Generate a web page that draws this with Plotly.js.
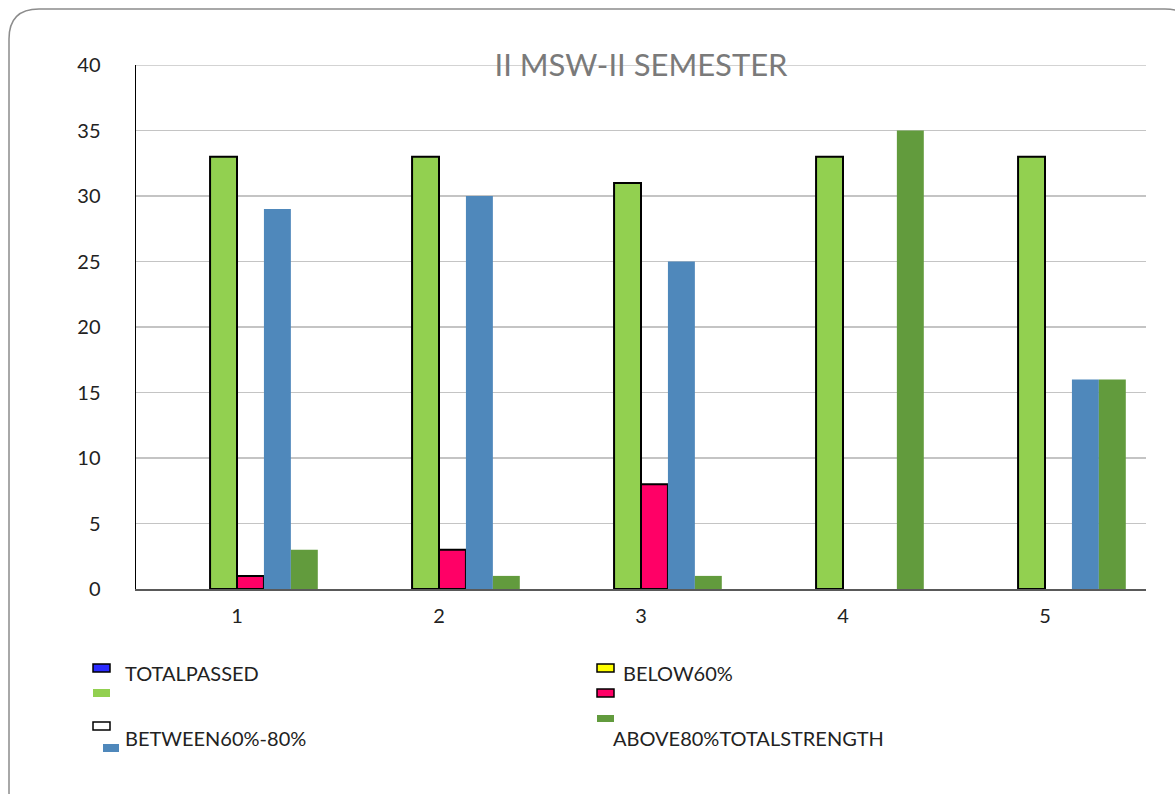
<!DOCTYPE html>
<html>
<head>
<meta charset="utf-8">
<script src="https://cdn.plot.ly/plotly-3.0.1.min.js"></script>
<style>html,body{margin:0;padding:0;background:#fff;}#chart{width:1175px;height:794px;}</style>
</head>
<body>
<div id="chart"></div>
<script>
// ---- data ----
const categories = ["1", "2", "3", "4", "5"];
const totalPassed = [0, 0, 0, 0, 0];
const below60Empty = [0, 0, 0, 0, 0];
const totalStrength = [33, 33, 31, 33, 33];
const below60 = [1, 3, 8, 0, 0];
const between60and80 = [29, 30, 25, 0, 16];
const above80 = [3, 1, 1, 35, 16];
const yTicks = [0, 5, 10, 15, 20, 25, 30, 35, 40];
const legendLabels = ["TOTALPASSED", "BELOW60%", "BETWEEN60%-80%", "ABOVE80%TOTALSTRENGTH"];
const chartTitle = "II MSW-II SEMESTER";

// ---- geometry helpers (pixel -> paper) ----
const W = 1175, H = 794;
const M = {l: 136, r: 29, t: 65, b: 205};
const PW = W - M.l - M.r, PH = H - M.t - M.b;
const px = x => (x - M.l) / PW;
const py = y => (H - M.b - y) / PH;

const FONT = "Lato, 'Open Sans', sans-serif";

function bar(name, y, color, outlined) {
  return {type: "bar", name: name, x: categories, y: y,
    marker: {color: color,
      line: {color: "#000", width: outlined ? y.map(v => v === 0 ? 0 : 2) : 0}},
    hoverinfo: "y", showlegend: false};
}

const traces = [
  bar("TOTALPASSED", totalPassed, "#2b2bff", true),
  bar("BELOW60%", below60Empty, "#ffff00", true),
  bar("TOTAL STRENGTH", totalStrength, "#92D050", true),
  bar("BELOW60%", below60, "#FF0066", true),
  bar("BETWEEN60%-80%", between60and80, "#4F88BB", false),
  bar("ABOVE80%", above80, "#629B3D", false)
];

// legend boxes (px)
function box(x0, y0, x1, y1, fill, withLine) {
  return {type: "rect", xref: "paper", yref: "paper",
    x0: px(x0), x1: px(x1), y0: py(y1), y1: py(y0),
    fillcolor: fill, line: withLine ? {color: "#000", width: 1.5} : {width: 0}};
}
function label(x, y, text) {
  return {xref: "paper", yref: "paper", x: px(x), y: py(y), xanchor: "left", yanchor: "middle",
    text: text, showarrow: false, font: {family: FONT, size: 20, color: "#222"}};
}

// frame path with rounded corners
const r = 30, fx0 = 9, fy0 = 9, fx1 = 1195, fy1 = 822;
const framePath =
  `M ${px(fx0)},${py(fy0 + r)} Q ${px(fx0)},${py(fy0)} ${px(fx0 + r)},${py(fy0)} ` +
  `L ${px(fx1 - r)},${py(fy0)} Q ${px(fx1)},${py(fy0)} ${px(fx1)},${py(fy0 + r)} ` +
  `L ${px(fx1)},${py(fy1 - r)} Q ${px(fx1)},${py(fy1)} ${px(fx1 - r)},${py(fy1)} ` +
  `L ${px(fx0 + r)},${py(fy1)} Q ${px(fx0)},${py(fy1)} ${px(fx0)},${py(fy1 - r)} Z`;

const shapes = [
  {type: "path", xref: "paper", yref: "paper", path: framePath,
   line: {color: "#8c8c8c", width: 1.5}, fillcolor: "rgba(0,0,0,0)", layer: "below"},
  {type: "line", xref: "paper", yref: "y", x0: 0, x1: 1, y0: yTicks[yTicks.length - 1], y1: yTicks[yTicks.length - 1],
   line: {color: "#c4c4c4", width: 1.3}, layer: "below"},
  box(93, 664, 110, 672, "#2b2bff", true),
  box(93, 689, 110, 697, "#92D050", false),
  box(93, 722, 110, 730, "#ffffff", true),
  box(103, 744, 119, 752, "#4F88BB", false),
  box(597, 664, 614, 672, "#ffff00", true),
  box(597, 689, 614, 697, "#FF0066", true),
  box(597, 715, 614, 722, "#629B3D", false)
];

const annotations = [
  label(123, 673, legendLabels[0]),
  label(621, 673, legendLabels[1]),
  label(123, 738, legendLabels[2]),
  label(611, 738, legendLabels[3])
];

const layout = {
  width: W, height: H,
  margin: M,
  paper_bgcolor: "#fff", plot_bgcolor: "rgba(0,0,0,0)",
  barmode: "group", bargap: 0.2, bargroupgap: 0,
  font: {family: FONT, color: "#222"},
  title: {text: chartTitle, x: 0.5, xref: "paper", xanchor: "center",
    y: 1 - 65 / H, yref: "container", yanchor: "middle",
    font: {family: FONT, size: 31, color: "#7a7a7a"}},
  xaxis: {type: "category", showgrid: false, showline: true, linecolor: "#595959", linewidth: 2,
    ticks: "", tickfont: {family: FONT, size: 20, color: "#222"}, ticklabelstandoff: 8,
    zeroline: false, fixedrange: true},
  yaxis: {range: [0, 40], tickvals: yTicks, showgrid: true, gridcolor: "#c4c4c4", gridwidth: 1.3,
    showline: true, linecolor: "#000", linewidth: 1.5, ticks: "", zeroline: false,
    tickfont: {family: FONT, size: 20, color: "#222"}, ticklabelstandoff: 30, fixedrange: true},
  shapes: shapes,
  annotations: annotations,
  showlegend: false
};

Plotly.newPlot("chart", traces, layout, {displayModeBar: false, staticPlot: true});
</script>
</body>
</html>
